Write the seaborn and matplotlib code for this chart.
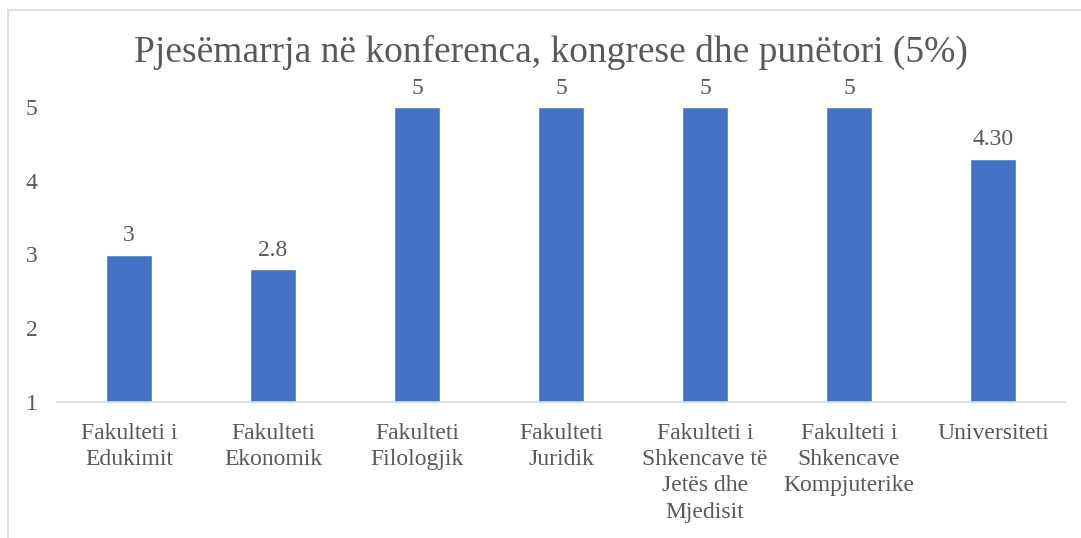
import matplotlib
matplotlib.use("Agg")
import matplotlib.pyplot as plt
import seaborn as sns
import pandas as pd
from matplotlib.patches import Rectangle

categories = [
    "Fakulteti i\nEdukimit",
    "Fakulteti\nEkonomik",
    "Fakulteti\nFilologjik",
    "Fakulteti\nJuridik",
    "Fakulteti i\nShkencave të\nJetës dhe\nMjedisit",
    "Fakulteti i\nShkencave\nKompjuterike",
    "Universiteti",
]
values = [3, 2.8, 5, 5, 5, 5, 4.30]
value_labels = ["3", "2.8", "5", "5", "5", "5", "4.30"]
yticks = [1, 2, 3, 4, 5]
title = "Pjesëmarrja në konferenca, kongrese dhe punëtori (5%)"

sns.set_theme(style="white")
plt.rcParams["font.family"] = ["Liberation Serif", "DejaVu Serif"]
text_color = "#595959"

df = pd.DataFrame({"category": categories, "value": values})

fig = plt.figure(figsize=(10.81, 5.38), dpi=100)
ax = fig.add_axes([57 / 1081, 1 - 402 / 538, (1065 - 57) / 1081, (402 - 107) / 538])

sns.barplot(data=df, x="category", y="value", color="#4472C4", width=0.315,
            saturation=1, ax=ax)

ax.set_ylim(1, 5)
ax.set_yticks(yticks)
ax.set_yticklabels([str(t) for t in yticks])
ax.set_xlabel("")
ax.set_ylabel("")

for side in ["top", "right", "left"]:
    ax.spines[side].set_visible(False)
ax.spines["bottom"].set_color("#d9d9d9")
ax.spines["bottom"].set_linewidth(1.2)

ax.tick_params(axis="y", length=0, pad=14, labelsize=17, labelcolor=text_color)
ax.tick_params(axis="x", length=0, pad=15, labelsize=17, labelcolor=text_color)
for lbl in ax.get_xticklabels():
    lbl.set_linespacing(1.33)

ax.bar_label(ax.containers[0], labels=value_labels, padding=6,
             fontsize=17, color=text_color)

fig.text(551 / 1081, 1 - 52 / 538, title, ha="center", va="center",
         fontsize=27, color=text_color)

# outer chart frame
fig.patches.append(Rectangle((8 / 1081, -0.1), 1.2, 1 - 10 / 538 + 0.1,
                             transform=fig.transFigure, fill=False,
                             edgecolor="#d9d9d9", linewidth=1.2))

fig.savefig("out.png", dpi=100)
